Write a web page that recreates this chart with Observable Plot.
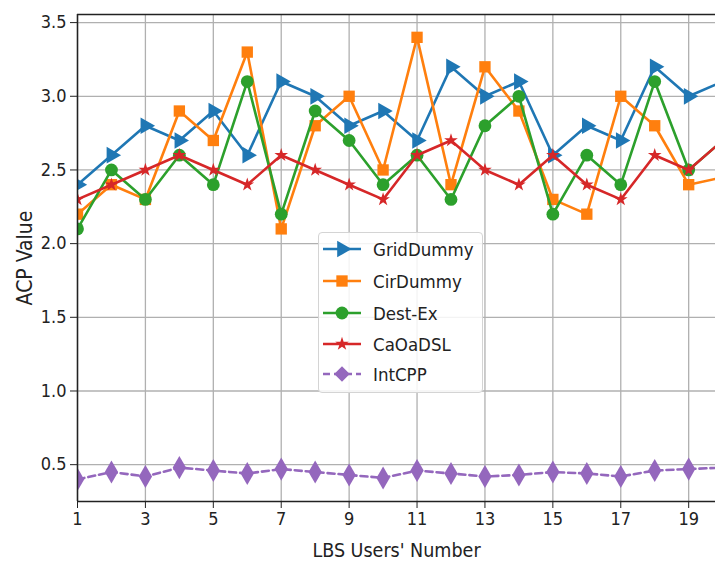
<!DOCTYPE html>
<html><head><meta charset="utf-8">
<script src="https://cdn.jsdelivr.net/npm/d3@7"></script>
<script src="https://cdn.jsdelivr.net/npm/@observablehq/plot@0.6"></script>
<style>
body{margin:0;background:#fff;}
#wrap{position:relative;width:715px;height:566px;overflow:hidden;background:#fff;}
.legend{position:absolute;left:318px;top:232px;width:165px;height:161px;border:1px solid #d4d4d4;border-radius:4px;background:rgba(255,255,255,0.85);box-sizing:border-box;font-family:"DejaVu Sans Condensed","DejaVu Sans";font-size:18.5px;color:#222;}
.row{position:absolute;left:0;height:30px;display:flex;align-items:center;}
.row svg{display:block;}
.row span{position:absolute;left:54px;white-space:nowrap;}
</style></head>
<body><div id="wrap"></div>
<script>
const users = [1,2,3,4,5,6,7,8,9,10,11,12,13,14,15,16,17,18,19,20];
const gridDummy = [2.4,2.6,2.8,2.7,2.9,2.6,3.1,3.0,2.8,2.9,2.7,3.2,3.0,3.1,2.6,2.8,2.7,3.2,3.0,3.1];
const cirDummy  = [2.2,2.4,2.3,2.9,2.7,3.3,2.1,2.8,3.0,2.5,3.4,2.4,3.2,2.9,2.3,2.2,3.0,2.8,2.4,2.45];
const destEx    = [2.1,2.5,2.3,2.6,2.4,3.1,2.2,2.9,2.7,2.4,2.6,2.3,2.8,3.0,2.2,2.6,2.4,3.1,2.5,2.7];
const caOaDSL   = [2.3,2.4,2.5,2.6,2.5,2.4,2.6,2.5,2.4,2.3,2.6,2.7,2.5,2.4,2.6,2.4,2.3,2.6,2.5,2.7];
const intCPP    = [0.40,0.45,0.42,0.48,0.46,0.44,0.47,0.45,0.43,0.41,0.46,0.44,0.42,0.43,0.45,0.44,0.42,0.46,0.47,0.48];
const seriesNames = ["GridDummy","CirDummy","Dest-Ex","CaOaDSL","IntCPP"];
const xTicks = [1,3,5,7,9,11,13,15,17,19];
const yTicks = [0.5,1.0,1.5,2.0,2.5,3.0,3.5];

const seriesValues = [gridDummy, cirDummy, destEx, caOaDSL, intCPP];
const colors = ["#1f77b4","#ff7f0e","#2ca02c","#d62728","#9467bd"];
const symbols = ["triangle","square","circle","star","diamond"];
const rotates = [90,0,0,0,0];
const radii = [6.2,6.4,6.4,4.3,7];
const dashes = [null,null,null,null,"7,4"];

const seriesMarks = seriesNames.flatMap((name, i) => {
  const rows = users.map((u, j) => ({x: u, y: seriesValues[i][j]}));
  return [
    Plot.line(rows, {x: "x", y: "y", stroke: colors[i], strokeWidth: 2.6, strokeDasharray: dashes[i] || undefined, clip: true}),
    Plot.dot(rows, {x: "x", y: "y", symbol: symbols[i], fill: colors[i], stroke: "none", r: radii[i], rotate: rotates[i], clip: true})
  ];
});

const yTop = 3.555, yBot = 0.25;
const chart = Plot.plot({
  width: 715, height: 566,
  marginLeft: 77, marginRight: 0, marginTop: 14, marginBottom: 65,
  style: {fontFamily: "'DejaVu Sans Condensed','DejaVu Sans'", fontSize: "18px", color: "#222", background: "#fff", overflow: "hidden"},
  x: {domain: [1, 19.79]},
  y: {domain: [yBot, yTop]},
  marks: [
    Plot.gridX(xTicks, {stroke: "#b0b0b0", strokeOpacity: 1, strokeWidth: 1.3}),
    Plot.gridY(yTicks, {stroke: "#b0b0b0", strokeOpacity: 1, strokeWidth: 1.3}),
    ...seriesMarks,
    Plot.ruleY([yTop, yBot], {stroke: "#222", strokeWidth: 1.5}),
    Plot.ruleX([1], {stroke: "#222", strokeWidth: 1.5}),
    Plot.axisX(xTicks, {tickSize: 7, tickPadding: 4, tickFormat: d => String(d), label: null, fontSize: 18}),
    Plot.axisX([], {tickSize: 0, label: "LBS Users' Number", labelAnchor: "center", labelArrow: "none", labelOffset: 55, fontSize: 19.5}),
    Plot.axisY(yTicks, {tickSize: 7, tickPadding: 4, tickFormat: d3.format(".1f"), label: null, fontSize: 18}),
    Plot.axisY([], {tickSize: 0, label: "ACP Value", labelAnchor: "center", labelArrow: "none", labelOffset: 60, fontSize: 21})
  ]
});
const wrap = document.getElementById("wrap");
wrap.appendChild(chart);

// Legend
const leg = document.createElement("div");
leg.className = "legend";
const rowCenters = [16, 48, 80, 111, 141];
seriesNames.forEach((name, i) => {
  const row = document.createElement("div");
  row.className = "row";
  row.style.top = (rowCenters[i] - 15) + "px";
  const sym = {triangle: d3.symbolTriangle, square: d3.symbolSquare, circle: d3.symbolCircle, star: d3.symbolStar, diamond: d3.symbolDiamond2}[symbols[i]];
  const r = radii[i];
  const path = d3.symbol(sym, Math.PI * r * r)();
  row.innerHTML = `<svg width="50" height="30"><line x1="4" x2="42" y1="15" y2="15" stroke="${colors[i]}" stroke-width="2.6" ${dashes[i] ? `stroke-dasharray="${dashes[i]}"` : ""}/><path d="${path}" transform="translate(23,15) rotate(${rotates[i]})" fill="${colors[i]}"/></svg><span>${name}</span>`;
  leg.appendChild(row);
});
wrap.appendChild(leg);
</script>
</body></html>
